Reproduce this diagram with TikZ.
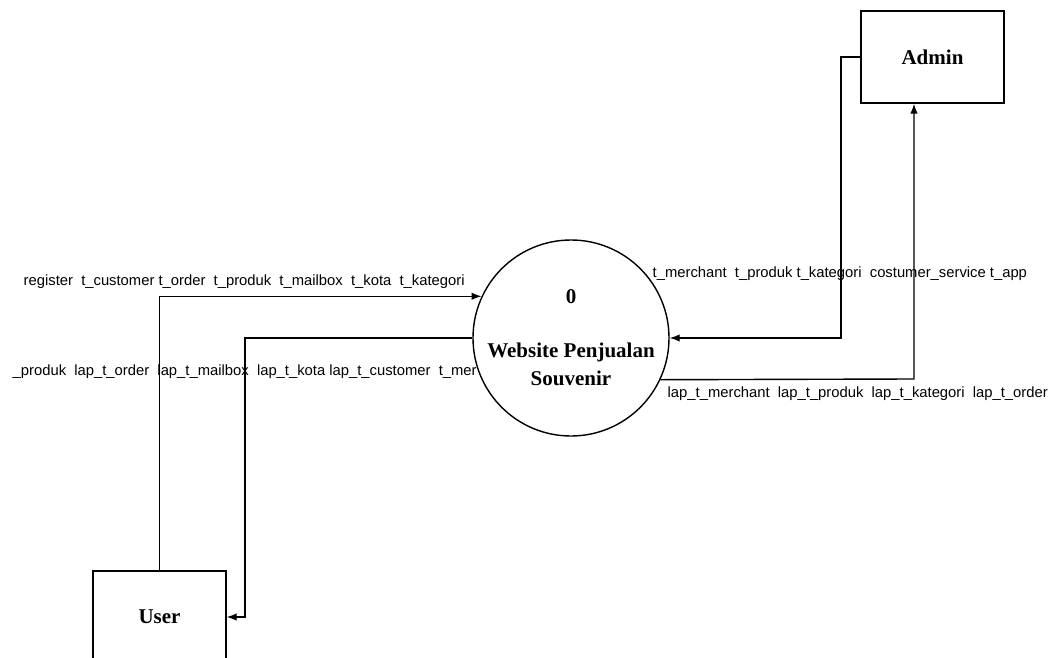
\documentclass[tikz,border=0pt]{standalone}
\usepackage{fontspec}
\setmainfont{Liberation Serif}
\newfontfamily\flowfont{Liberation Sans}
\usetikzlibrary{arrows.meta}
\begin{document}
\begin{tikzpicture}[
    x=1pt, y=-1pt,
    line width=1.4pt,
    >={Latex[length=10pt, width=7.5pt]},
    entityHeight/.style={minimum height=92pt},
    entity/.style={draw, entityHeight, font=\bfseries\fontsize{21}{24}\selectfont},
    process/.style={draw, circle, fill=white, minimum size=196pt, inner sep=0pt, align=center,
        font=\bfseries\fontsize{21}{28}\selectfont},
    flowLabel/.style={inner sep=0pt, font=\flowfont\fontsize{14.8}{16}\selectfont},
    every node/.style={
        text centered,
        }
        ]
    \useasboundingbox (0,0) rectangle (1055,658);

    % labels first, the process circle covers their ends
    \node[flowLabel, anchor=base west] (userIn) at (23,285) {register\ \ t\_customer t\_order\ \ t\_produk\ \ t\_mailbox\ \ t\_kota\ \ t\_kategori};
    \node[flowLabel, anchor=base west] (userOut) at (12,375) {\_produk\ \ lap\_t\_order\ \ lap\_t\_mailbox\ \ lap\_t\_kota lap\_t\_customer\ \ t\_mer};
    \node[flowLabel, anchor=base west] (adminIn) at (652,277) {t\_merchant\ \ t\_produk t\_kategori\ \ costumer\_service t\_app};
    \node[flowLabel, anchor=base west] (adminOut) at (667,397) {lap\_t\_merchant\ \ lap\_t\_produk\ \ lap\_t\_kategori\ \ lap\_t\_order};

    \node[process] (proc) at (571,338) {0\\[26pt]Website Penjualan\\Souvenir};
    \node[entity, minimum width=143pt] (admin) at (932.5,57) {Admin};
    \node[entity, minimum width=133pt] (user) at (159.5,617) {User};

    \coordinate (userBend) at (245,338);
    \coordinate (adminBend) at (841,57);
    \coordinate (reportBend) at (914,379);

    \draw[->] (user.north) |- (proc.155);
    \draw[->] (proc.west) -- (userBend) |- (user.east);
    \draw[->] (admin.west) -- (adminBend) |- (proc.east);
    \draw[->] (proc.-25) -- (reportBend) -- (reportBend |- admin.south);
\end{tikzpicture}
\end{document}
